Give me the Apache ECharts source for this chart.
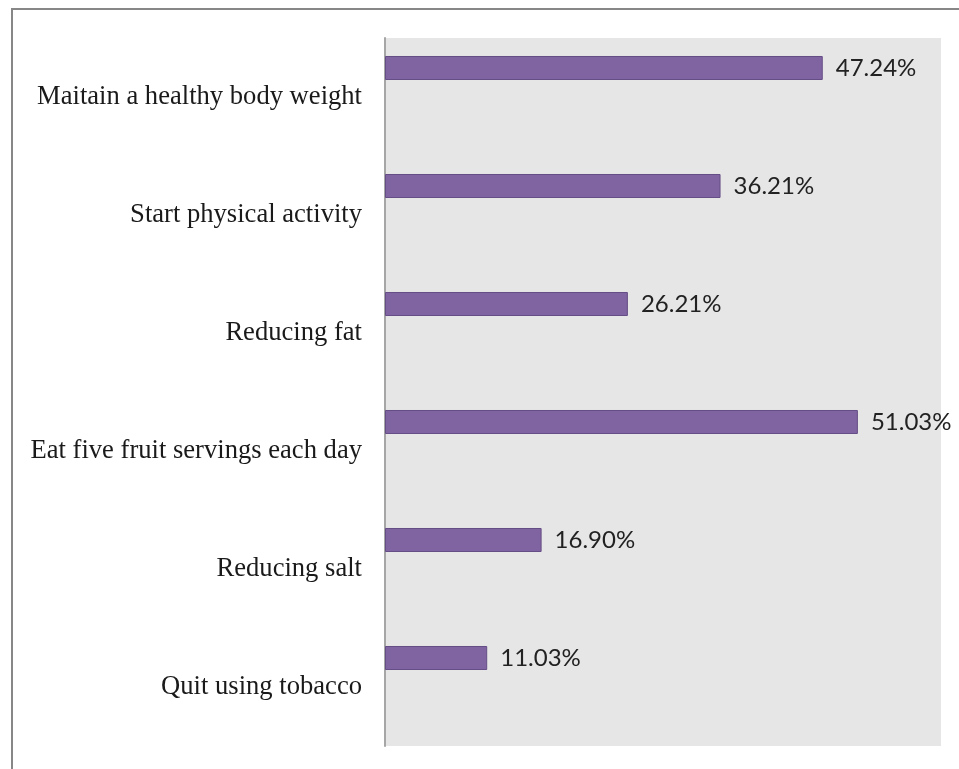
<!DOCTYPE html>
<html>
<head>
<meta charset="utf-8">
<script src="https://cdn.jsdelivr.net/npm/echarts@6/dist/echarts.min.js"></script>
<style>
html,body{margin:0;padding:0;background:#fff;}
#c{width:959px;height:769px;}
</style>
</head>
<body>
<div id="c"></div>
<script>
const categories = ["Maitain a healthy body weight", "Start physical activity", "Reducing fat", "Eat five fruit servings each day", "Reducing salt", "Quit using tobacco"];
const values = [47.24, 36.21, 26.21, 51.03, 16.90, 11.03];
const emptySeries = [null, null, null, null, null, null];

const chart = echarts.init(document.getElementById('c'), null, {renderer: 'canvas'});
chart.setOption({
  animation: false,
  backgroundColor: '#ffffff',
  graphic: [{
    type: 'rect', z: 100,
    shape: {x: 12, y: 9, width: 1200, height: 1000},
    style: {fill: 'none', stroke: '#878787', lineWidth: 2}
  }],
  grid: {left: 385, top: 38, right: 18, bottom: 23, show: true, backgroundColor: '#e6e6e6', borderWidth: 0},
  xAxis: {type: 'value', min: 0, max: 60, show: false},
  yAxis: {
    type: 'category', data: categories, inverse: true,
    axisLine: {show: true, lineStyle: {color: '#a6a6a6', width: 2}},
    axisTick: {show: false},
    axisLabel: {margin: 23, color: '#1a1a1a', fontFamily: 'Liberation Serif', fontSize: 26.6, padding: [5, 0, 0, 0]}
  },
  series: [{
    type: 'bar', data: values, barWidth: 24, barGap: '141.7%',
    itemStyle: {color: '#8064a2', borderColor: '#654d85', borderWidth: 1},
    label: {show: true, position: 'right', distance: 13, color: '#222', fontFamily: 'Lato', fontSize: 24,
      formatter: p => p.value.toFixed(2) + '%'}
  }, {
    type: 'bar', data: emptySeries, barWidth: 24
  }]
});
</script>
</body>
</html>
